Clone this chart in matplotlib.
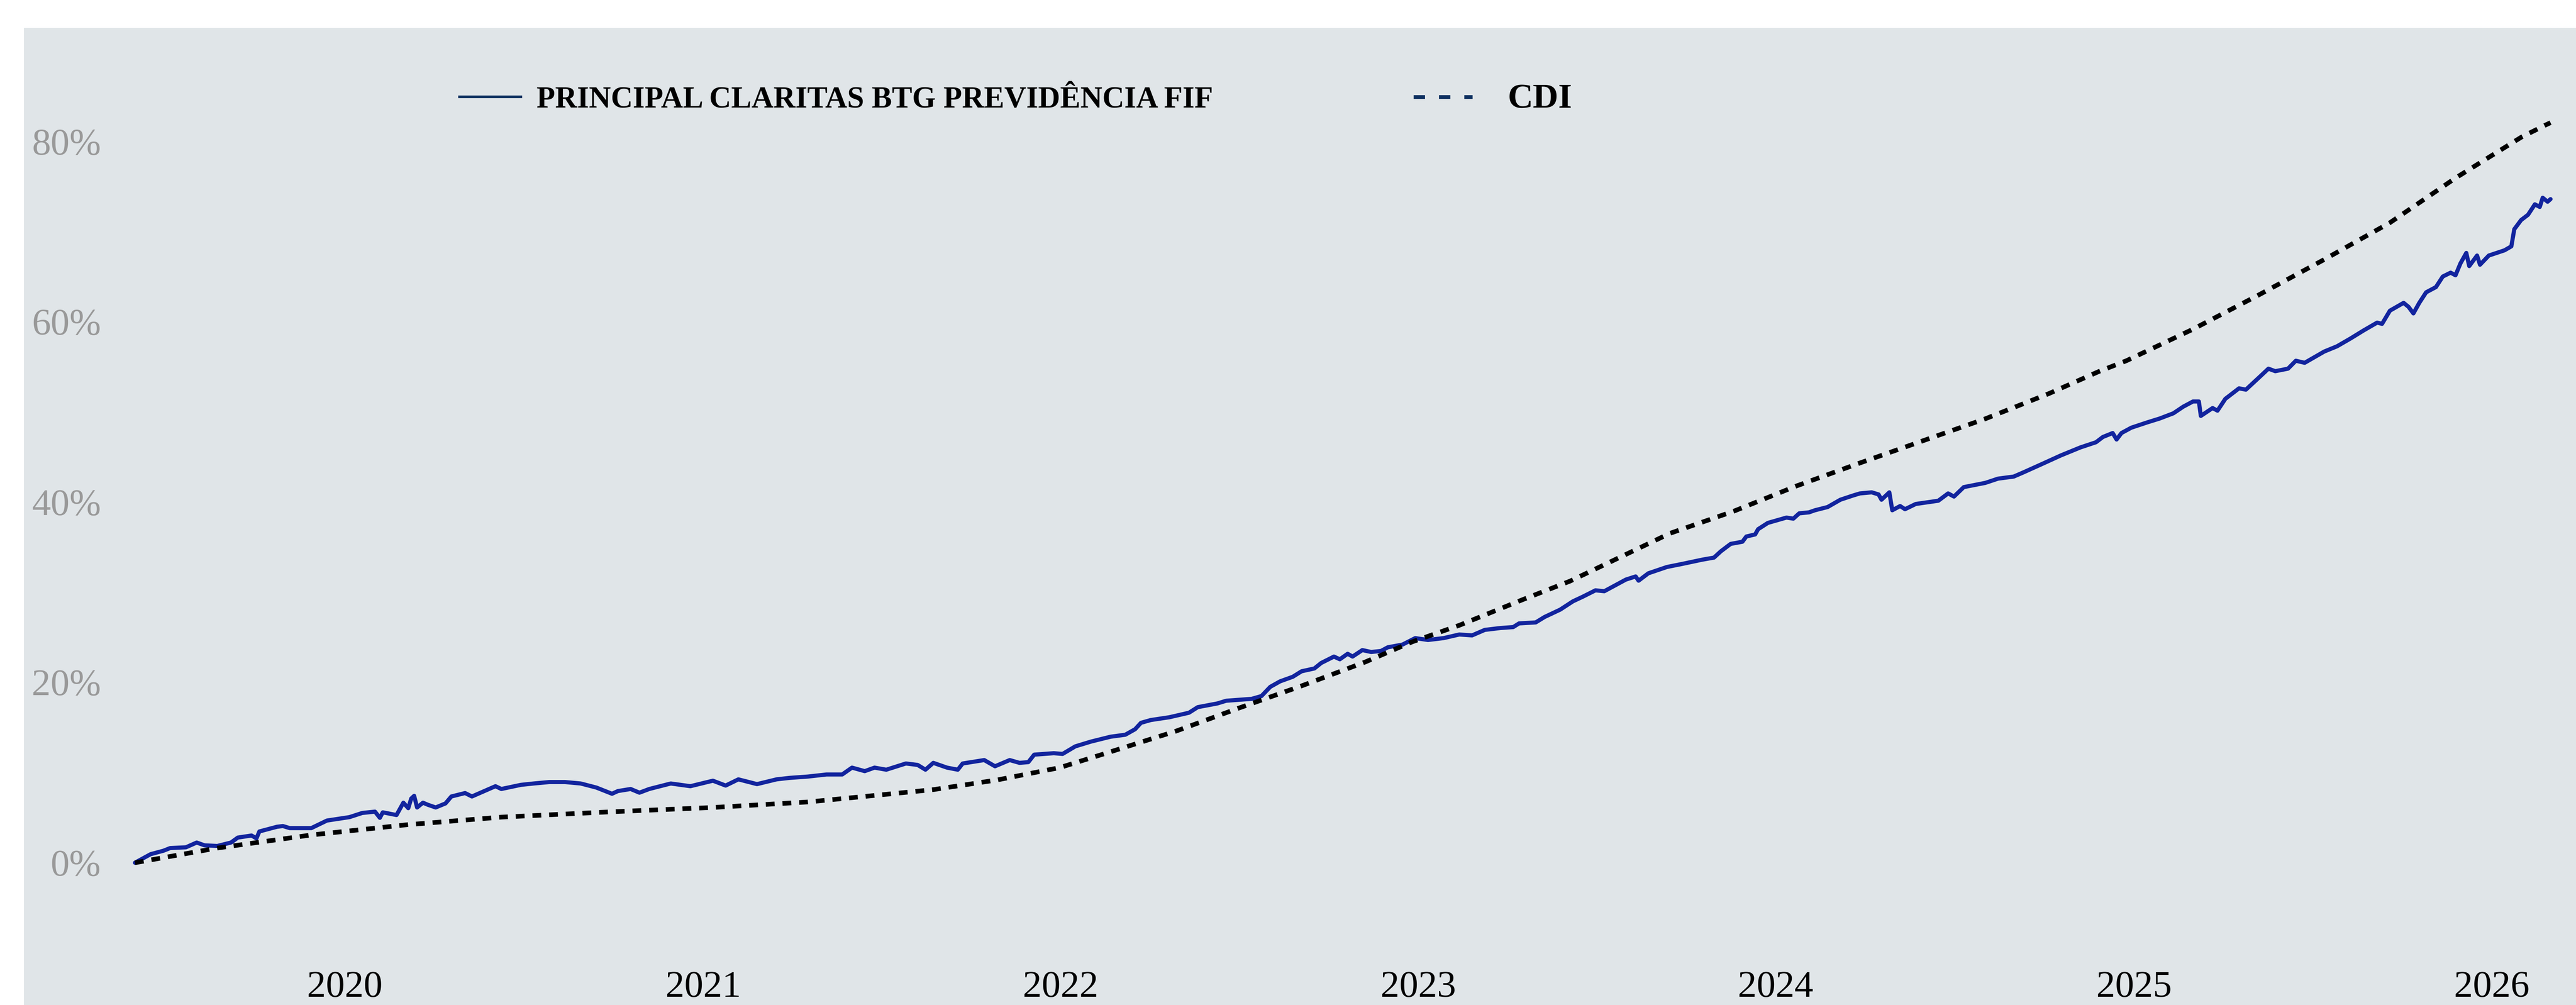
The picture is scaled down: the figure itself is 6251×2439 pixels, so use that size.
import matplotlib
matplotlib.use('Agg')
import matplotlib.pyplot as plt
import matplotlib.dates as mdates
from matplotlib.lines import Line2D
from matplotlib.patches import Rectangle
import pandas as pd

# %%
# values (cumulative return, %)
fund_dates = [
    '2019-06-01', '2019-06-17', '2019-06-30', '2019-07-07', '2019-07-23', '2019-08-03',
    '2019-08-11', '2019-08-24', '2019-09-07', '2019-09-14', '2019-09-28', '2019-10-03',
    '2019-10-06', '2019-10-24', '2019-10-30', '2019-11-06', '2019-11-28', '2019-12-14',
    '2020-01-06', '2020-01-19', '2020-02-01', '2020-02-06', '2020-02-09', '2020-02-23',
    '2020-03-01', '2020-03-06', '2020-03-09', '2020-03-12', '2020-03-15', '2020-03-21',
    '2020-03-26', '2020-04-03', '2020-04-13', '2020-04-19', '2020-05-03', '2020-05-10',
    '2020-05-18', '2020-06-03', '2020-06-09', '2020-06-29', '2020-07-12', '2020-07-28',
    '2020-08-13', '2020-08-29', '2020-09-14', '2020-09-30', '2020-10-06', '2020-10-19',
    '2020-10-28', '2020-11-07', '2020-11-29', '2020-12-19', '2021-01-11', '2021-01-24',
    '2021-02-06', '2021-02-25', '2021-03-17', '2021-03-30', '2021-04-18', '2021-05-07',
    '2021-05-23', '2021-06-02', '2021-06-15', '2021-06-25', '2021-07-07', '2021-07-27',
    '2021-08-08', '2021-08-16', '2021-08-24', '2021-09-07', '2021-09-18', '2021-09-23',
    '2021-10-15', '2021-10-26', '2021-11-10', '2021-11-20', '2021-11-29', '2021-12-05',
    '2021-12-25', '2022-01-03', '2022-01-16', '2022-02-01', '2022-02-21', '2022-03-08',
    '2022-03-18', '2022-03-24', '2022-04-03', '2022-04-22', '2022-05-12', '2022-05-21',
    '2022-06-10', '2022-06-19', '2022-07-15', '2022-07-25', '2022-08-03', '2022-08-13',
    '2022-08-26', '2022-09-04', '2022-09-17', '2022-09-24', '2022-10-07', '2022-10-13',
    '2022-10-21', '2022-10-26', '2022-11-05', '2022-11-14', '2022-11-24', '2022-12-01',
    '2022-12-16', '2022-12-29', '2023-01-11', '2023-01-27', '2023-02-12', '2023-02-25',
    '2023-03-10', '2023-03-26', '2023-04-08', '2023-04-14', '2023-05-01', '2023-05-10',
    '2023-05-26', '2023-06-08', '2023-06-18', '2023-07-01', '2023-07-10', '2023-08-01',
    '2023-08-11', '2023-08-14', '2023-08-24', '2023-09-12', '2023-09-28', '2023-10-18',
    '2023-10-30', '2023-11-06', '2023-11-16', '2023-11-28', '2023-12-02', '2023-12-11',
    '2023-12-14', '2023-12-24', '2024-01-12', '2024-01-19', '2024-01-25', '2024-02-04',
    '2024-02-10', '2024-02-23', '2024-03-07', '2024-03-20', '2024-03-27', '2024-04-08',
    '2024-04-15', '2024-04-18', '2024-04-26', '2024-04-29', '2024-05-07', '2024-05-12',
    '2024-05-23', '2024-06-15', '2024-06-25', '2024-07-01', '2024-07-11', '2024-08-02',
    '2024-08-15', '2024-08-31', '2024-09-10', '2024-09-29', '2024-10-18', '2024-11-07',
    '2024-11-23', '2024-11-30', '2024-12-10', '2024-12-14', '2024-12-19', '2024-12-29',
    '2025-01-14', '2025-01-27', '2025-02-10', '2025-02-20', '2025-03-02', '2025-03-08',
    '2025-03-10', '2025-03-22', '2025-03-27', '2025-04-04', '2025-04-18', '2025-04-25',
    '2025-05-08', '2025-05-18', '2025-05-25', '2025-06-07', '2025-06-15', '2025-06-24',
    '2025-07-14', '2025-07-27', '2025-08-10', '2025-08-23', '2025-09-06', '2025-09-11',
    '2025-09-19', '2025-10-03', '2025-10-08', '2025-10-13', '2025-10-19', '2025-10-26',
    '2025-11-05', '2025-11-12', '2025-11-20', '2025-11-25', '2025-11-30', '2025-12-06',
    '2025-12-09', '2025-12-17', '2025-12-20', '2025-12-29', '2026-01-14', '2026-01-21',
    '2026-01-24', '2026-01-31', '2026-02-07', '2026-02-14', '2026-02-19', '2026-02-22',
    '2026-02-27', '2026-03-02',
]
fund_vals = [
    0.0, 0.95, 1.33, 1.63, 1.71, 2.24,
    1.93, 1.86, 2.24, 2.79, 3.02, 2.70,
    3.47, 3.99, 4.07, 3.84, 3.84, 4.68,
    5.06, 5.52, 5.67, 4.98, 5.59, 5.29,
    6.66, 6.05, 7.12, 7.42, 6.13, 6.66,
    6.43, 6.13, 6.58, 7.35, 7.73, 7.35,
    7.73, 8.49, 8.18, 8.64, 8.79, 8.95,
    8.95, 8.79, 8.34, 7.65, 7.95, 8.18,
    7.77, 8.18, 8.79, 8.49, 9.10, 8.56,
    9.25, 8.72, 9.25, 9.41, 9.56, 9.79,
    9.79, 10.55, 10.16, 10.55, 10.32, 11.01,
    10.85, 10.32, 11.08, 10.55, 10.32, 11.01,
    11.39, 10.70, 11.39, 11.08, 11.16, 11.99,
    12.15, 12.07, 12.91, 13.44, 13.98, 14.20,
    14.81, 15.52, 15.83, 16.14, 16.64, 17.26,
    17.67, 17.97, 18.18, 18.49, 19.51, 20.12,
    20.63, 21.24, 21.55, 22.16, 22.87, 22.57,
    23.18, 22.87, 23.59, 23.38, 23.49, 23.90,
    24.20, 24.92, 24.71, 24.92, 25.32, 25.22,
    25.83, 26.04, 26.14, 26.55, 26.66, 27.26,
    28.08, 29.00, 29.51, 30.22, 30.12, 31.41,
    31.76, 31.29, 32.11, 32.81, 33.16, 33.62,
    33.85, 34.55, 35.37, 35.61, 36.19, 36.42,
    37.00, 37.70, 38.29, 38.17, 38.76, 38.87,
    39.10, 39.46, 40.27, 40.74, 40.97, 41.09,
    40.86, 40.27, 41.09, 39.10, 39.57, 39.22,
    39.80, 40.16, 40.97, 40.62, 41.67, 42.14,
    42.61, 42.84, 43.31, 44.24, 45.18, 46.07,
    46.65, 47.23, 47.67, 46.95, 47.67, 48.26,
    48.84, 49.28, 49.86, 50.59, 51.17, 51.17,
    49.57, 50.44, 50.15, 51.46, 52.63, 52.48,
    53.79, 54.81, 54.53, 54.81, 55.69, 55.46,
    56.71, 57.29, 58.17, 59.04, 59.92, 59.78,
    61.24, 62.11, 61.67, 60.94, 62.11, 63.28,
    63.86, 65.03, 65.46, 65.17, 66.48, 67.65,
    66.19, 67.36, 66.34, 67.36, 67.94, 68.38,
    70.28, 71.30, 71.88, 73.04, 72.75, 73.77,
    73.33, 73.62,
]

cdi_dates = [
    '2019-06-01', '2019-08-24', '2019-11-28', '2020-03-05', '2020-06-09', '2020-10-03',
    '2021-01-11', '2021-04-18', '2021-06-21', '2021-08-24', '2021-10-28', '2021-12-31',
    '2022-02-14', '2022-04-29', '2022-07-02', '2022-09-04', '2022-11-08', '2022-12-26',
    '2023-02-12', '2023-04-18', '2023-06-05', '2023-07-12', '2023-09-15', '2023-11-19',
    '2024-01-22', '2024-03-27', '2024-05-30', '2024-08-02', '2024-10-06', '2024-11-26',
    '2024-12-24', '2025-03-02', '2025-05-08', '2025-07-14', '2025-09-19', '2025-11-25',
    '2026-01-31', '2026-02-24', '2026-03-02',
]
cdi_vals = [
    0.0, 1.63, 3.08, 4.22, 5.06, 5.67,
    6.13, 6.74, 7.42, 8.11, 9.18, 10.55,
    12.07, 14.61, 17.16, 19.62, 22.27, 24.51,
    26.34, 29.20, 31.24, 33.16, 36.54, 38.99,
    41.79, 44.35, 46.80, 49.25, 52.05, 54.50,
    55.69, 59.19, 62.98, 66.92, 71.00, 75.96,
    80.48, 81.79, 82.10,
]

y_ticks = [0, 20, 40, 60, 80]
fund_name = 'PRINCIPAL CLARITAS BTG PREVIDÊNCIA FIF'
bench_name = 'CDI'

# %%
plt.rcParams['font.family'] = ['Liberation Serif', 'DejaVu Serif']

W, H, DPI = 6251, 2439, 300
bg = '#e0e5e8'
fig = plt.figure(figsize=(W / DPI, H / DPI), dpi=DPI)
fig.patch.set_facecolor('white')

# grey panel behind everything
fig.add_artist(Rectangle((58 / W, 0), 1 - 58 / W, 1 - 68 / H, transform=fig.transFigure,
                         facecolor=bg, edgecolor='none', zorder=-1))

ax = fig.add_axes([280 / W, (H - 2330) / H, (W - 280) / W, (2330 - 68) / H])
ax.set_facecolor(bg)

fund = pd.Series(fund_vals, index=pd.to_datetime(fund_dates))
cdi = pd.Series(cdi_vals, index=pd.to_datetime(cdi_dates))

ax.plot(fund.index, fund.values, color='#12249e', lw=2.4,
        solid_joinstyle='round', solid_capstyle='round', zorder=2)
ax.plot(cdi.index, cdi.values, color='black', lw=2.7, linestyle=(0, (1.9, 1.7)), zorder=3)

ax.set_xlim(pd.Timestamp('2019-05-12'), pd.Timestamp('2026-03-28'))
ax.set_ylim(-10.8, 92.6)

ax.set_yticks(y_ticks)
ax.set_yticklabels([f'{v}%' for v in y_ticks])
ax.xaxis.set_major_locator(mdates.YearLocator())
ax.xaxis.set_major_formatter(mdates.DateFormatter('%Y'))

ax.tick_params(axis='y', length=0, pad=8.4, labelsize=22, labelcolor='#999999')
ax.tick_params(axis='x', length=0, pad=6, labelsize=22, labelcolor='black')
for s in ax.spines.values():
    s.set_visible(False)

# legend drawn by hand (two entries of different size)
ly = 1 - 235 / H
fig.add_artist(Line2D([1115 / W, 1264 / W], [ly, ly], transform=fig.transFigure,
                      color='#0b2e5e', lw=1.5))
fig.text(1302 / W, 1 - 262 / H, fund_name, fontsize=17.7, fontweight='bold',
         ha='left', va='baseline')
fig.add_artist(Line2D([3430 / W, 3573 / W], [ly, ly], transform=fig.transFigure,
                      color='#0b2e5e', lw=2.2, linestyle=(0, (3, 3.7))))
fig.text(3659 / W, 1 - 262 / H, bench_name, fontsize=20.5, fontweight='bold',
         ha='left', va='baseline')

fig.savefig('out.png', dpi=DPI, facecolor=fig.get_facecolor())
